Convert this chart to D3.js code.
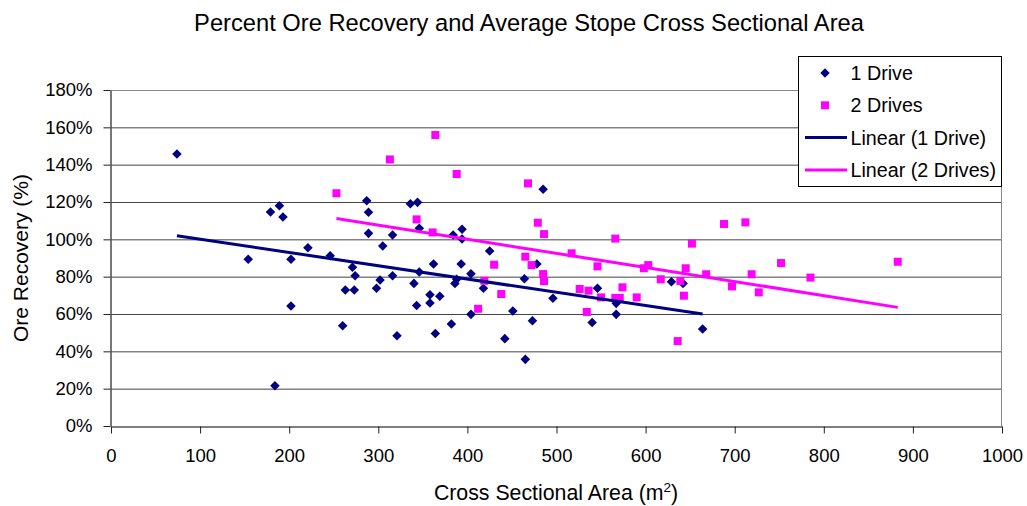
<!DOCTYPE html>
<html>
<head>
<meta charset="utf-8">
<script src="https://cdn.jsdelivr.net/npm/d3@7"></script>
<style>
  body { margin: 0; background: #fff; }
  svg text { font-family: "Liberation Sans", Arial, sans-serif; fill: #000; }
</style>
</head>
<body>
<div id="chart"></div>
<script>
// data
const oneDriveArea = [74, 154, 179, 189, 193, 202, 202, 184, 221, 246, 271, 274, 263, 273, 260,
  287, 289, 289, 305, 302, 298, 316, 316, 321, 336, 344, 346, 346, 340, 343, 358, 358, 369, 362,
  364, 382, 384, 394, 394, 393, 386, 388, 404, 404, 418, 425, 442, 451, 464, 465, 473, 478, 485,
  496, 546, 540, 567, 567, 629, 642, 664]
const oneDriveRecovery = [145.7, 89.3, 114.6, 118, 112, 89.3, 64.3, 21.6, 95.5, 91.2, 85, 80.5, 72.9, 72.9, 53.7,
  120.7, 114.5, 103.2, 96.4, 78.2, 73.8, 102.3, 80.5, 48.4, 119.1, 119.8, 105.9, 82.5, 76.4, 64.5, 70.3, 65.9, 69.5, 86.8,
  49.5, 54.6, 102.3, 105.4, 100.2, 86.8, 76.4, 78.6, 81.6, 59.8, 73.8, 93.8, 46.8, 61.6, 78.9, 35.7, 56.4, 86.8, 126.8,
  68.4, 73.8, 55.5, 65.7, 59.8, 77.3, 76.4, 52]

const twoDrivesArea = [253, 313, 364, 388, 343, 361, 468, 479, 486, 465, 472, 430, 419, 438, 412,
  485, 486, 566, 517, 546, 526, 536, 550, 534, 566, 571, 574, 590, 598, 603, 617, 639, 643, 645,
  636, 652, 668, 688, 712, 697, 719, 727, 752, 785, 883]
const twoDrivesRecovery = [124.7, 142.8, 155.9, 135, 110.7, 103.7, 130, 108.9, 102.8, 90.7, 86.2, 86.4, 77.8, 70.7, 62.8,
  81.4, 77.6, 100.4, 92.5, 85.5, 73.4, 72.5, 68.9, 61.1, 68.6, 68.6, 74.3, 68.9, 84.5, 86.2, 78.6, 77.7, 69.8, 84.5,
  45.5, 97.7, 81.3, 108.2, 109.1, 74.8, 81.3, 71.6, 87.3, 79.5, 88]

const xTicks = [0, 100, 200, 300, 400, 500, 600, 700, 800, 900, 1000]
const yTicks = [0, 20, 40, 60, 80, 100, 120, 140, 160, 180]
const seriesNames = ["1 Drive", "2 Drives", "Linear (1 Drive)", "Linear (2 Drives)"]

const width = 1027
const height = 506
const margin = { top: 90, bottom: 80, right: 25, left: 111 }
const navy = "#000080"
const magenta = "#ff00ff"

const svg = d3.select("div#chart").append("svg").attr("width", width).attr("height", height)

const x = d3.scaleLinear().domain([0, 1000]).range([margin.left, width - margin.right])
const y = d3.scaleLinear().domain([0, 180]).range([height - margin.bottom, margin.top])

// gridlines + border
const grid = svg.append("g").attr("class", "grid")
grid.selectAll("line").data(yTicks.filter(d => d > 0)).join("line")
  .attr("x1", x(0)).attr("x2", x(1000))
  .attr("y1", d => y(d) + 0.5).attr("y2", d => y(d) + 0.5)
  .attr("stroke", d => d === 180 ? "#888" : "#444").attr("stroke-width", 1)
grid.append("line")
  .attr("x1", x(1000) - 0.5).attr("x2", x(1000) - 0.5)
  .attr("y1", y(180)).attr("y2", y(0))
  .attr("stroke", "#888")

// axes
const xAxis = d3.axisBottom(x).tickValues(xTicks).tickFormat(d => String(d)).tickSize(7).tickSizeOuter(0).tickPadding(15)
const yAxis = d3.axisLeft(y).tickValues(yTicks).tickFormat(d => d + "%").tickSize(7).tickSizeOuter(0).tickPadding(11)

const xAxisGroup = svg.append("g").attr("transform", `translate(0, ${y(0) + 0.5})`).call(xAxis)
const yAxisGroup = svg.append("g").attr("transform", `translate(${x(0) - 0.5}, 0)`).call(yAxis)
xAxisGroup.select(".domain").attr("stroke", "#000")
yAxisGroup.select(".domain").attr("stroke", "#555").attr("stroke-width", 1.6)
svg.selectAll(".tick line").attr("stroke", "#222")
svg.selectAll(".tick text").attr("font-size", 18.5).attr("font-family", "Liberation Sans, Arial, sans-serif")

// trend lines (least squares, over each series' x range)
function fit(xs, ys) {
  const mx = d3.mean(xs), my = d3.mean(ys)
  const sxy = d3.sum(xs, (v, i) => (v - mx) * (ys[i] - my))
  const sxx = d3.sum(xs, v => (v - mx) * (v - mx))
  const slope = sxy / sxx
  const b = my - slope * mx
  const ext = d3.extent(xs)
  return ext.map(v => [v, b + slope * v])
}
const line = d3.line().x(d => x(d[0])).y(d => y(d[1]))

// points
const diamond = d3.symbol().type(d3.symbolDiamond2).size(58)
svg.append("g").selectAll("path").data(oneDriveArea.map((a, i) => [a, oneDriveRecovery[i]])).join("path")
  .attr("d", diamond)
  .attr("transform", d => `translate(${x(d[0])}, ${y(d[1])})`)
  .attr("fill", navy)

svg.append("g").selectAll("rect").data(twoDrivesArea.map((a, i) => [a, twoDrivesRecovery[i]])).join("rect")
  .attr("x", d => x(d[0]) - 4).attr("y", d => y(d[1]) - 4)
  .attr("width", 8).attr("height", 8)
  .attr("fill", magenta)

svg.append("path").datum(fit(oneDriveArea, oneDriveRecovery)).attr("d", line)
  .attr("fill", "none").attr("stroke", navy).attr("stroke-width", 3)
svg.append("path").datum(fit(twoDrivesArea, twoDrivesRecovery)).attr("d", line)
  .attr("fill", "none").attr("stroke", magenta).attr("stroke-width", 3)

// titles
svg.append("text").attr("x", 529).attr("y", 31).attr("text-anchor", "middle")
  .attr("font-size", 23.7).text("Percent Ore Recovery and Average Stope Cross Sectional Area")

const xTitle = svg.append("text").attr("x", 556).attr("y", 500).attr("text-anchor", "middle").attr("font-size", 21.3)
xTitle.append("tspan").text("Cross Sectional Area (m")
xTitle.append("tspan").attr("font-size", 13.5).attr("dy", -8).text("2")
xTitle.append("tspan").attr("dy", 8).text(")")

svg.append("text").attr("transform", "translate(28, 258) rotate(-90)").attr("text-anchor", "middle")
  .attr("font-size", 21).text("Ore Recovery (%)")

// legend
const legend = svg.append("g").attr("transform", "translate(798.5, 56.5)")
legend.append("rect").attr("width", 203).attr("height", 130).attr("fill", "#fff").attr("stroke", "#000")
const rowY = i => 16.5 + i * 32.3
const items = legend.selectAll("g").data(seriesNames).join("g")
  .attr("transform", (d, i) => `translate(0, ${rowY(i)})`)
items.append("text").attr("x", 52).attr("dy", "0.35em").attr("font-size", 19.7).text(d => d)
items.filter((d, i) => i === 0).append("path").attr("d", diamond).attr("transform", "translate(26.5, 0)").attr("fill", navy)
items.filter((d, i) => i === 1).append("rect").attr("x", 22.5).attr("y", -4).attr("width", 8).attr("height", 8).attr("fill", magenta)
items.filter((d, i) => i >= 2).append("line").attr("x1", 6.5).attr("x2", 48.5)
  .attr("stroke", (d, i) => i === 0 ? navy : magenta).attr("stroke-width", 3)
</script>
</body>
</html>
